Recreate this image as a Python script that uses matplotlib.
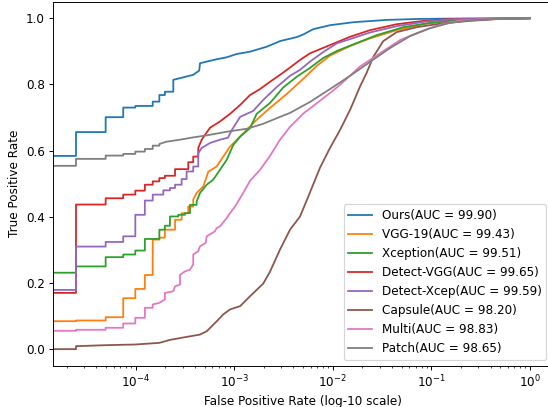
import matplotlib
matplotlib.use("Agg")
import matplotlib.pyplot as plt

labels = ['Ours(AUC = 99.90)', 'VGG-19(AUC = 99.43)', 'Xception(AUC = 99.51)',
          'Detect-VGG(AUC = 99.65)', 'Detect-Xcep(AUC = 99.59)', 'Capsule(AUC = 98.20)',
          'Multi(AUC = 98.83)', 'Patch(AUC = 98.65)']

fpr_ours = [0, 2.48e-5, 2.48e-5, 4.96e-5, 4.96e-5, 7.48e-5, 7.48e-5, 9.92e-5, 9.92e-5, 1.49e-4, 1.49e-4,
            1.74e-4, 1.74e-4, 1.98e-4, 1.98e-4, 2.41e-4, 2.41e-4, 2.82e-4, 3.29e-4, 3.84e-4, 4.42e-4,
            4.50e-4, 5.26e-4, 6.64e-4, 8.39e-4, 1.06e-3, 1.45e-3, 2.14e-3, 2.92e-3, 4.31e-3, 5.03e-3,
            6.35e-3, 9.39e-3, 1.62e-2, 3.53e-2, 7.70e-2, 0.168, 1.0]
tpr_ours = [0.584, 0.584, 0.656, 0.656, 0.701, 0.701, 0.730, 0.730, 0.735, 0.735, 0.748, 0.748, 0.768,
            0.768, 0.778, 0.778, 0.814, 0.819, 0.824, 0.829, 0.842, 0.864, 0.869, 0.876, 0.882, 0.892,
            0.899, 0.914, 0.931, 0.943, 0.951, 0.967, 0.979, 0.988, 0.995, 0.998, 0.999, 1.0]

fpr_vgg = [0, 2.48e-5, 2.48e-5, 4.96e-5, 4.96e-5, 7.48e-5, 7.48e-5, 9.92e-5, 9.92e-5, 1.24e-4, 1.24e-4,
           1.49e-4, 1.49e-4, 1.74e-4, 1.74e-4, 1.98e-4, 1.98e-4, 2.51e-4, 2.51e-4, 2.93e-4, 2.93e-4,
           3.42e-4, 3.42e-4, 3.84e-4, 3.84e-4, 4.16e-4, 4.86e-4, 5.46e-4, 6.64e-4, 7.75e-4, 9.07e-4,
           1.15e-3, 1.69e-3, 2.31e-3, 3.41e-3, 5.03e-3, 6.88e-3, 9.39e-3, 1.50e-2, 2.39e-2, 4.46e-2,
           8.31e-2, 0.182, 1.0]
tpr_vgg = [0.0845, 0.0845, 0.0866, 0.0866, 0.0965, 0.0965, 0.154, 0.154, 0.182, 0.182, 0.224, 0.224,
           0.331, 0.331, 0.337, 0.337, 0.361, 0.361, 0.391, 0.391, 0.411, 0.411, 0.431, 0.431, 0.452,
           0.472, 0.492, 0.536, 0.552, 0.582, 0.612, 0.643, 0.693, 0.729, 0.771, 0.817, 0.856, 0.887,
           0.916, 0.939, 0.964, 0.982, 0.995, 1.0]

fpr_xcep = [0, 2.48e-5, 2.48e-5, 4.96e-5, 4.96e-5, 7.48e-5, 7.48e-5, 9.92e-5, 9.92e-5, 1.24e-4, 1.24e-4,
            1.74e-4, 1.74e-4, 1.98e-4, 1.98e-4, 2.23e-4, 2.23e-4, 2.71e-4, 2.71e-4, 3.17e-4, 3.17e-4,
            3.56e-4, 3.56e-4, 4.16e-4, 4.16e-4, 4.50e-4, 5.26e-4, 6.13e-4, 7.17e-4, 8.39e-4, 9.79e-4,
            1.15e-3, 1.45e-3, 1.69e-3, 2.31e-3, 3.15e-3, 4.31e-3, 5.88e-3, 8.03e-3, 1.10e-2, 1.75e-2,
            2.80e-2, 5.21e-2, 9.72e-2, 0.182, 1.0]
tpr_xcep = [0.231, 0.231, 0.250, 0.250, 0.278, 0.278, 0.286, 0.286, 0.298, 0.298, 0.333, 0.333, 0.361,
            0.361, 0.373, 0.373, 0.401, 0.401, 0.406, 0.406, 0.411, 0.411, 0.436, 0.436, 0.446, 0.472,
            0.497, 0.512, 0.542, 0.572, 0.617, 0.642, 0.668, 0.711, 0.744, 0.791, 0.823, 0.850, 0.880,
            0.901, 0.925, 0.949, 0.973, 0.986, 0.995, 1.0]

fpr_dvgg = [0, 2.48e-5, 2.48e-5, 4.96e-5, 4.96e-5, 7.48e-5, 7.48e-5, 9.92e-5, 9.92e-5, 1.24e-4, 1.24e-4,
            1.49e-4, 1.49e-4, 1.74e-4, 1.74e-4, 1.98e-4, 1.98e-4, 2.51e-4, 2.51e-4, 3.42e-4, 3.42e-4,
            3.84e-4, 3.84e-4, 4.32e-4, 4.32e-4, 4.68e-4, 5.68e-4, 7.17e-4, 9.07e-4, 1.15e-3, 1.45e-3,
            1.83e-3, 2.31e-3, 2.92e-3, 3.69e-3, 4.66e-3, 5.88e-3, 9.39e-3, 1.50e-2, 2.39e-2, 4.46e-2,
            8.31e-2, 0.166, 1.0]
tpr_dvgg = [0.170, 0.170, 0.437, 0.437, 0.456, 0.456, 0.467, 0.467, 0.479, 0.479, 0.497, 0.497, 0.507,
            0.507, 0.517, 0.517, 0.524, 0.524, 0.544, 0.544, 0.565, 0.565, 0.582, 0.582, 0.608, 0.633,
            0.669, 0.688, 0.711, 0.738, 0.768, 0.786, 0.808, 0.829, 0.851, 0.874, 0.894, 0.919, 0.944,
            0.964, 0.982, 0.992, 0.998, 1.0]

fpr_dxcep = [0, 2.48e-5, 2.48e-5, 4.96e-5, 4.96e-5, 7.48e-5, 7.48e-5, 9.92e-5, 9.92e-5, 1.24e-4, 1.24e-4,
             1.49e-4, 1.49e-4, 1.91e-4, 1.91e-4, 2.23e-4, 2.23e-4, 2.51e-4, 2.51e-4, 2.93e-4, 2.93e-4,
             3.29e-4, 3.29e-4, 3.84e-4, 3.84e-4, 4.32e-4, 4.32e-4, 4.68e-4, 5.68e-4, 7.17e-4, 8.65e-4,
             9.50e-4, 1.15e-3, 1.56e-3, 1.97e-3, 2.70e-3, 3.69e-3, 4.66e-3, 5.88e-3, 8.03e-3, 1.10e-2,
             1.50e-2, 2.39e-2, 4.46e-2, 8.31e-2, 0.166, 1.0]
tpr_dxcep = [0.179, 0.179, 0.310, 0.310, 0.324, 0.324, 0.341, 0.341, 0.406, 0.406, 0.449, 0.449, 0.467,
             0.467, 0.480, 0.480, 0.487, 0.487, 0.497, 0.497, 0.514, 0.514, 0.537, 0.537, 0.552, 0.552,
             0.592, 0.608, 0.623, 0.633, 0.639, 0.663, 0.702, 0.720, 0.753, 0.792, 0.826, 0.844, 0.869,
             0.898, 0.924, 0.937, 0.957, 0.976, 0.989, 0.997, 1.0]

fpr_caps = [0, 2.48e-5, 2.48e-5, 4.96e-5, 9.92e-5, 1.74e-4, 2.23e-4, 3.29e-4, 4.50e-4, 5.26e-4, 6.64e-4,
            7.75e-4, 9.07e-4, 1.15e-3, 1.45e-3, 1.97e-3, 2.31e-3, 2.92e-3, 3.69e-3, 4.66e-3, 5.44e-3,
            7.43e-3, 9.39e-3, 1.19e-2, 1.50e-2, 1.89e-2, 2.21e-2, 2.58e-2, 3.26e-2, 4.46e-2, 7.12e-2,
            0.133, 0.248, 0.499, 1.0]
tpr_caps = [0.0, 0.0, 0.009, 0.012, 0.014, 0.019, 0.028, 0.037, 0.044, 0.054, 0.084, 0.105, 0.120,
            0.130, 0.160, 0.198, 0.234, 0.301, 0.361, 0.401, 0.449, 0.548, 0.608, 0.663, 0.723, 0.793,
            0.835, 0.883, 0.931, 0.958, 0.973, 0.985, 0.992, 0.998, 1.0]

fpr_multi = [0, 2.48e-5, 2.48e-5, 4.96e-5, 4.96e-5, 7.48e-5, 7.48e-5, 9.92e-5, 9.92e-5, 1.24e-4, 1.24e-4,
             1.49e-4, 1.49e-4, 1.74e-4, 1.98e-4, 1.98e-4, 2.41e-4, 2.51e-4, 2.82e-4, 2.82e-4, 3.17e-4,
             3.56e-4, 3.84e-4, 3.84e-4, 4.32e-4, 4.50e-4, 5.14e-4, 5.26e-4, 6.38e-4, 6.64e-4, 7.17e-4,
             8.39e-4, 9.07e-4, 1.02e-3, 1.24e-3, 1.45e-3, 1.83e-3, 2.31e-3, 2.92e-3, 3.69e-3, 5.03e-3,
             6.88e-3, 9.39e-3, 1.19e-2, 1.89e-2, 3.02e-2, 4.82e-2, 7.70e-2, 0.123, 0.196, 0.395, 1.0]
tpr_multi = [0.0555, 0.0555, 0.0585, 0.0585, 0.0646, 0.0646, 0.0775, 0.0775, 0.0947, 0.0947, 0.125,
             0.125, 0.135, 0.140, 0.150, 0.170, 0.175, 0.190, 0.195, 0.225, 0.235, 0.240, 0.256, 0.286,
             0.296, 0.311, 0.321, 0.341, 0.356, 0.366, 0.371, 0.396, 0.411, 0.431, 0.473, 0.509, 0.542,
             0.584, 0.633, 0.672, 0.712, 0.743, 0.774, 0.799, 0.854, 0.894, 0.934, 0.959, 0.980, 0.993,
             0.998, 1.0]

fpr_patch = [0, 2.48e-5, 2.48e-5, 4.96e-5, 4.96e-5, 7.48e-5, 7.48e-5, 9.92e-5, 9.92e-5, 1.24e-4, 1.24e-4,
             1.49e-4, 1.49e-4, 1.74e-4, 1.74e-4, 2.06e-4, 2.82e-4, 3.84e-4, 5.26e-4, 8.39e-4, 1.34e-3,
             1.97e-3, 2.92e-3, 3.69e-3, 5.88e-3, 9.39e-3, 1.50e-2, 2.39e-2, 3.82e-2, 6.09e-2, 9.72e-2,
             0.155, 0.248, 0.499, 1.0]
tpr_patch = [0.554, 0.554, 0.575, 0.575, 0.585, 0.585, 0.590, 0.590, 0.597, 0.597, 0.605, 0.605, 0.615,
             0.615, 0.620, 0.627, 0.633, 0.640, 0.646, 0.657, 0.666, 0.681, 0.702, 0.714, 0.747, 0.786,
             0.826, 0.868, 0.910, 0.946, 0.970, 0.986, 0.994, 0.999, 1.0]

curves = [(fpr_ours, tpr_ours), (fpr_vgg, tpr_vgg), (fpr_xcep, tpr_xcep), (fpr_dvgg, tpr_dvgg),
          (fpr_dxcep, tpr_dxcep), (fpr_caps, tpr_caps), (fpr_multi, tpr_multi), (fpr_patch, tpr_patch)]

dpi = 86
fig = plt.figure(figsize=(548 / dpi, 407 / dpi), dpi=dpi)
ax = fig.add_axes([0.0973, 0.1015, 0.9108, 0.8943])

for (fpr, tpr), lab in zip(curves, labels):
    ax.plot(fpr, tpr, label=lab)

ax.set_xscale('log')
ax.set_xlim(1.46e-5, 1.70)
ax.set_ylim(-0.05, 1.05)
ax.set_xlabel('False Positive Rate (log-10 scale)')
ax.set_ylabel('True Positive Rate')
ax.legend(loc='lower right')

fig.savefig('out.png', dpi=dpi)
